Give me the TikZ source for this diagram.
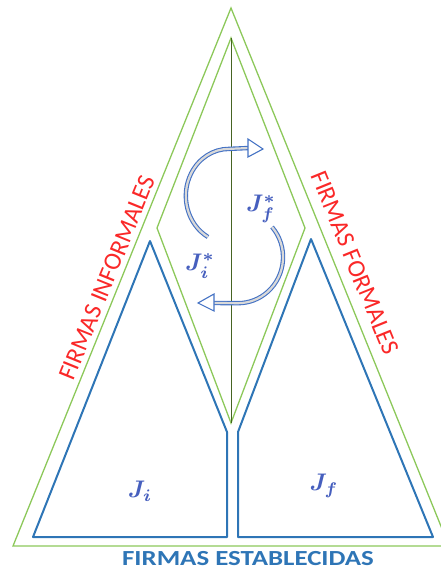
\documentclass[tikz,border=0pt]{standalone}
\usepackage{graphicx}
\usepackage{fontspec}
\setmainfont{Carlito}
\definecolor{leafgreen}{RGB}{140,200,90}
\definecolor{stemgreen}{RGB}{70,100,35}
\definecolor{lineblue}{RGB}{46,117,182}
\definecolor{labelblue}{RGB}{70,95,190}
\definecolor{swirlblue}{RGB}{68,114,196}
\definecolor{signred}{RGB}{250,40,40}
\newcommand{\bigj}[1]{\scalebox{2.4}{\boldmath$#1$}}

\begin{document}
\begin{tikzpicture}[x=1pt,y=-1pt]
  \tikzset{frame/.style={draw=leafgreen, line width=1.3pt},
    part/.style={draw=lineblue, line width=2pt, line join=round},
    sidelab/.style={text=signred, font=\fontsize{25}{25}\selectfont, inner sep=0pt},
    jlab/.style={text=labelblue, inner sep=0pt},
    swirl/.style={draw=swirlblue, line width=1.1pt, double=black!15, double distance=2.2pt},
    swirlhead/.style={draw=swirlblue, fill=white, line width=1.1pt, line join=miter}}
\useasboundingbox (0,0) rectangle (441,575);
% outer and inner green frames
\coordinate (apex) at (231,8);
\draw[frame] (13,546) -- (apex) -- (449,546) -- cycle;
\draw[frame] (231,38) -- (157,228) -- (231,423) -- (305,228) -- cycle;
\draw[stemgreen, line width=1pt] (231,38) -- (231,423);
% blue parts
\draw[part] (150,241) -- (33,537) -- (227,537) -- (227,432) -- cycle;
\draw[part] (311,239) -- (433,537) -- (238,537) -- (238,432) -- cycle;
% labels
\node[sidelab, rotate=67.9] (informal) at (107,278) {FIRMAS INFORMALES};
\node[sidelab, rotate=-67.9] (formal) at (355,263) {FIRMAS FORMALES};
\node[text=lineblue, font=\fontsize{21.5}{21.5}\selectfont\bfseries, inner sep=0pt] (estab) at (248,559) {\scalebox{1.25}[1]{FIRMAS ESTABLECIDAS}};
\node[jlab] (ji) at (140,491) {\bigj{J_i}};
\node[jlab] (jf) at (324,486) {\bigj{J_f}};
\node[jlab] (jis) at (200,266) {\bigj{J_i^*}};
\node[jlab] (jfs) at (261,209) {\bigj{J_f^*}};
% swirling arrows
\draw[swirl] (208,237) arc[start angle=119, end angle=270, x radius=43, y radius=47] -- (249,148);
\draw[swirlhead] (248,139) -- (263,149) -- (248,157) -- cycle;
\draw[swirl] (272,227) arc[start angle=-41, end angle=90, x radius=45, y radius=46] -- (214,303);
\draw[swirlhead] (214,294) -- (198,303) -- (214,311) -- cycle;
\end{tikzpicture}
\end{document}
